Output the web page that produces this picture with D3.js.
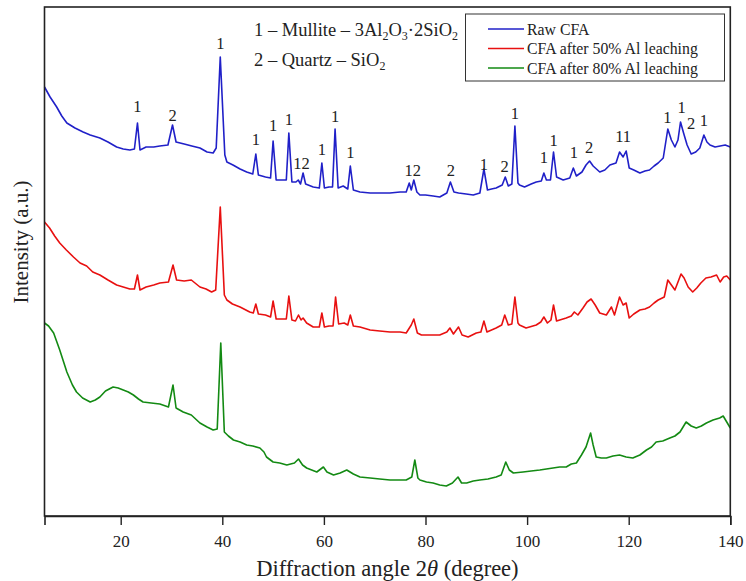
<!DOCTYPE html>
<html>
  <head>
    <script src="https://d3js.org/d3.v7.min.js"></script>
    <style>
      body { margin: 0; padding: 0; background: #fff; }
      svg { display: block; font-family: 'Liberation Serif', 'Times New Roman', serif; }
    </style>
  </head>
  <body>
    <div id="chart"></div>
    <script>
      // [2θ, intensity (a.u.)]
      var rawCFA = [
        [5,429],[6.1,419],[7.4,409],[8.4,400],[9.4,393],[11,388],[12.6,384],[14,381],[15.9,378],[17.5,374],[19.2,369],
        [20.5,367],[21.8,366],[22.7,367],[23.3,393],[23.8,366],[25,369],[26.5,369],[27.7,370],[29.3,371],
        [30.2,391],[30.9,374],[32.5,372],[34,370],[35.6,368],[37,364],[38.2,363],[38.8,368],[39.6,459],
        [40.5,361],[40.9,354],[42.1,351],[43.5,347],[44.8,344],[46,342],[46.6,362],[47.1,341],[48.5,339],
        [49.5,338],[50,375],[50.6,336],[52,336],[52.6,336],[53.1,383],[53.7,334],[54.5,334],[54.95,336],
        [55.4,332],[55.9,343],[56.4,332],[57.9,329],[59.1,328],[59.6,353],[60.1,328],[61,329],[61.7,329],
        [62.2,387],[62.8,328],[63.8,330],[64.7,327],[65.2,350],[65.8,326],[67.1,324],[69.1,323],[71,323],
        [73,323],[75,324],[76.2,324],[76.8,333],[77.2,326],[77.7,336],[78.3,324],[78.9,321],[80,321],
        [81.5,320],[82.8,319],[84.2,323],[84.9,334],[85.6,324],[86.5,323],[88,322],[89.4,321],[90.7,323],
        [91.5,347],[92.2,326],[93,327],[93.9,328],[95.1,331],[95.7,339],[96.3,330],[97,332],[97.6,390],
        [98.2,333],[98.5,331],[99.5,329],[100.8,332],[101.8,334],[102.8,335],[103.3,343],[103.8,336],
        [104.6,336],[105.2,364],[105.8,339],[107.1,336],[108.4,338],[109.1,348],[109.7,340],[110.8,344],
        [111.6,351],[112.3,355],[113,350],[114.3,344],[115.3,346],[116.3,351],[117.5,353],[118.2,364],
        [118.9,359],[119.5,365],[120.1,348],[121,346],[122.2,343],[123.2,345],[124.1,346],[125,350],
        [125.8,353],[126.8,358],[127.7,387],[128.4,376],[129.1,369],[129.7,376],[130.2,394],[130.8,383],
        [131.5,371],[132.3,362],[133.2,364],[134,368],[134.8,381],[135.4,374],[136,371],[137,369],
        [138,370],[139,371],[140,369]
      ];

      var cfa50 = [
        [5,294],[6,288],[7,280],[8,273],[9.3,266],[10.7,259],[12,253],[13.3,250],[14.5,244],[15.9,241],
        [17.5,236],[19.2,231],[20.5,229],[21.8,227],[22.7,227],[23.3,241],[23.8,226],[25,229],[26.5,231],
        [27.7,233],[29.4,234],[30.3,251],[31,236],[32.5,235],[33.9,236],[35.6,229],[36.8,227],[37.9,224],
        [38.7,226],[39.6,309],[40.4,221],[40.9,216],[42,212],[43.5,209],[45.4,204],[46.1,203],[46.6,212],
        [47.1,202],[48.5,201],[49.5,199],[50,215],[50.6,197],[52,197],[52.6,197],[53.1,220],[53.7,196],
        [54.4,195],[55,201],[55.5,196],[55.9,198],[56.6,193],[57.9,189],[59.1,189],[59.6,203],[60.1,189],
        [61,190],[61.8,190],[62.3,219],[62.9,192],[64,193],[64.7,191],[65.2,201],[65.8,190],[67.1,189],
        [69.1,186],[71,185],[73,184],[75,184],[76.2,183],[77.2,191],[77.7,197],[78.4,183],[79.2,181],
        [81,181],[82.8,181],[84.2,184],[84.8,188],[85.5,182],[86.5,189],[87.2,181],[88.4,179],[90,183],
        [90.9,184],[91.5,195],[92.1,184],[93.9,188],[95,191],[95.6,201],[96.3,191],[97,192],[97.6,219],
        [98.2,193],[98.5,191],[99.8,188],[101.8,191],[102.7,194],[103.3,199],[104,193],[104.7,196],
        [105.2,211],[105.8,195],[107.7,198],[108.7,200],[109.3,204],[110,201],[111,208],[111.8,214],
        [112.6,217],[113.4,211],[114.3,203],[115.6,201],[116.6,209],[117.2,201],[118.2,219],[118.9,211],
        [119.5,213],[120.1,198],[121,202],[122.2,206],[123.2,207],[124.1,209],[125,213],[125.8,216],
        [127,219],[127.7,236],[128.4,231],[129.1,226],[129.7,234],[130.3,242],[130.9,238],[131.7,229],
        [132.6,224],[133.4,228],[134.2,233],[135.2,238],[136.2,239],[137.3,241],[138,234],[138.7,239],
        [139.3,240],[140,236]
      ];

      var cfa80 = [
        [5,193],[5.8,190],[6.8,183],[8,166],[9.4,144],[10.5,131],[11.3,124],[12.5,118],[14,114],[15,116],
        [15.9,119],[17,125],[18.5,129],[19.5,128],[20.5,126],[21.5,124],[22.5,121],[23.5,117],[24.4,114],
        [26,113],[27.7,112],[29.4,109],[30.3,131],[30.9,108],[32.3,104],[33.9,101],[35.6,93],[37,89],
        [38.2,86],[39,87],[39.7,173],[40.4,84],[41.2,80],[42.2,76],[43.5,74],[44.8,71],[46,70],[47.4,68],
        [48.2,64],[48.7,59],[50,54],[51.3,53],[52.7,51],[54.2,53],[55,57],[55.8,51],[56.6,48],[58.6,44],
        [59.9,49],[60.6,44],[61.9,41],[63.2,43],[64.5,46],[65.8,42],[67.1,39],[69.1,38],[71,37],[73,36],
        [75,36],[76.2,36],[77.3,39],[77.9,56],[78.5,38],[78.9,36],[80.2,34],[81.5,33],[82.8,31],[84.1,30],
        [85.3,33],[86.4,39],[87.1,33],[88.1,33],[89.4,35],[90.7,36],[92.3,37],[93.9,39],[94.9,41],
        [95.8,54],[96.5,46],[97.3,43],[99.2,44],[100.8,45],[102.5,46],[103.8,47],[105.1,48],[106.4,49],
        [107.7,49],[108.7,52],[109.7,53],[110.7,61],[111.6,69],[112.5,83],[113,71],[113.6,59],[114.6,58],
        [115.6,58],[116.9,60],[118.2,61],[119.5,59],[120.8,58],[122.2,61],[123.5,66],[124.5,69],
        [125.4,74],[126.7,75],[128.1,78],[129.1,80],[130.1,84],[131.3,94],[132.3,90],[133.3,88],
        [134.3,90],[135.3,93],[136.6,96],[137.9,98],[138.6,100],[139.3,94],[140,88]
      ];

      var seriesNames = ["Raw CFA", "CFA after 50% Al leaching", "CFA after 80% Al leaching"];
      var seriesColors = ["#2020c8", "#e81010", "#138a13"];
      var xTicks = [20, 40, 60, 80, 100, 120, 140];

      // peak markers: 2θ, label, height (a.u.)
      var peakTheta = [23.3, 30.2, 39.6, 46.6, 50.0, 53.1, 55.6, 59.6, 62.2, 65.2, 77.5, 85.0, 91.5,
                       95.6, 97.6, 103.3, 105.2, 109.2, 112.2, 118.9, 127.6, 130.4, 132.3, 134.8];
      var peakText  = ["1", "2", "1", "1", "1", "1", "12", "1", "1", "1", "12", "2", "1",
                       "2", "1", "1", "1", "1", "2", "11", "1", "1", "2", "1"];
      var peakLevel = [410, 401, 473, 377, 391, 397, 353, 367, 400, 364, 346, 346, 352,
                       350, 403, 359, 376, 364, 369, 380, 399, 409, 393, 396];

      var W = 746, H = 581;
      var svg = d3.select("#chart").append("svg").attr("width", W).attr("height", H);

      var x = d3.scaleLinear().domain([5, 140]).range([44.5, 730.3]);
      var y = d3.scaleLinear().domain([0, 509]).range([516, 7]);

      var line = d3.line().x(function (d) { return x(d[0]); }).y(function (d) { return y(d[1]); });

      [rawCFA, cfa50, cfa80].forEach(function (s, i) {
        svg.append("path")
          .datum(s)
          .attr("d", line)
          .attr("fill", "none")
          .attr("stroke", seriesColors[i])
          .attr("stroke-width", 1.6)
          .attr("stroke-linejoin", "round");
      });

      // frame
      svg.append("rect")
        .attr("x", x(5)).attr("y", y(509))
        .attr("width", x(140) - x(5)).attr("height", y(0) - y(509))
        .attr("fill", "none").attr("stroke", "#222").attr("stroke-width", 1.6);

      var xAxis = svg.append("g")
        .attr("transform", "translate(0," + y(0) + ")")
        .call(d3.axisBottom(x).tickValues(xTicks).tickSize(9).tickPadding(10));
      xAxis.select(".domain").attr("stroke", "#222").attr("stroke-width", 1.6);
      xAxis.selectAll(".tick line").attr("stroke", "#222").attr("stroke-width", 1.4);
      xAxis.selectAll("text")
        .attr("font-family", "'Liberation Serif', serif")
        .attr("font-size", 17).attr("fill", "#222");

      // peak labels
      svg.append("g").selectAll("text")
        .data(peakTheta)
        .join("text")
        .attr("x", function (d) { return x(d); })
        .attr("y", function (d, i) { return y(peakLevel[i]); })
        .attr("dy", "0.35em")
        .attr("text-anchor", "middle")
        .attr("font-size", 16.5)
        .attr("fill", "#222")
        .text(function (d, i) { return peakText[i]; });

      // phase key
      var key1 = svg.append("text").attr("x", 254).attr("y", 36).attr("font-size", 18.5).attr("fill", "#222");
      key1.append("tspan").text("1 \u2013 Mullite \u2013 3Al");
      key1.append("tspan").attr("font-size", 12).attr("dy", 4).text("2");
      key1.append("tspan").attr("dy", -4).text("O");
      key1.append("tspan").attr("font-size", 12).attr("dy", 4).text("3");
      key1.append("tspan").attr("dy", -4).text("\u00b72SiO");
      key1.append("tspan").attr("font-size", 12).attr("dy", 4).text("2");

      var key2 = svg.append("text").attr("x", 254).attr("y", 66).attr("font-size", 18.5).attr("fill", "#222");
      key2.append("tspan").text("2 \u2013 Quartz \u2013 SiO");
      key2.append("tspan").attr("font-size", 12).attr("dy", 4).text("2");

      // legend
      var legend = svg.append("g");
      legend.append("rect")
        .attr("x", 465.5).attr("y", 14).attr("width", 259).attr("height", 67)
        .attr("fill", "#fff").attr("stroke", "#333").attr("stroke-width", 1);
      seriesNames.forEach(function (name, i) {
        var ly = 29 + i * 19.5;
        legend.append("line")
          .attr("x1", 488).attr("x2", 524).attr("y1", ly).attr("y2", ly)
          .attr("stroke", seriesColors[i]).attr("stroke-width", 1.4);
        legend.append("text")
          .attr("x", 527).attr("y", ly).attr("dy", "0.35em")
          .attr("font-size", 15.8).attr("fill", "#222")
          .text(name);
      });

      // axis titles
      var xt = svg.append("text")
        .attr("x", (x(5) + x(140)) / 2).attr("y", 576)
        .attr("text-anchor", "middle").attr("font-size", 22.5).attr("fill", "#222");
      xt.append("tspan").text("Diffraction angle 2");
      xt.append("tspan").attr("font-style", "italic").text("\u03b8");
      xt.append("tspan").text(" (degree)");

      svg.append("text")
        .attr("transform", "translate(28,242) rotate(-90)")
        .attr("text-anchor", "middle").attr("font-size", 21).attr("fill", "#222")
        .text("Intensity (a.u.)");
    </script>
  </body>
</html>
